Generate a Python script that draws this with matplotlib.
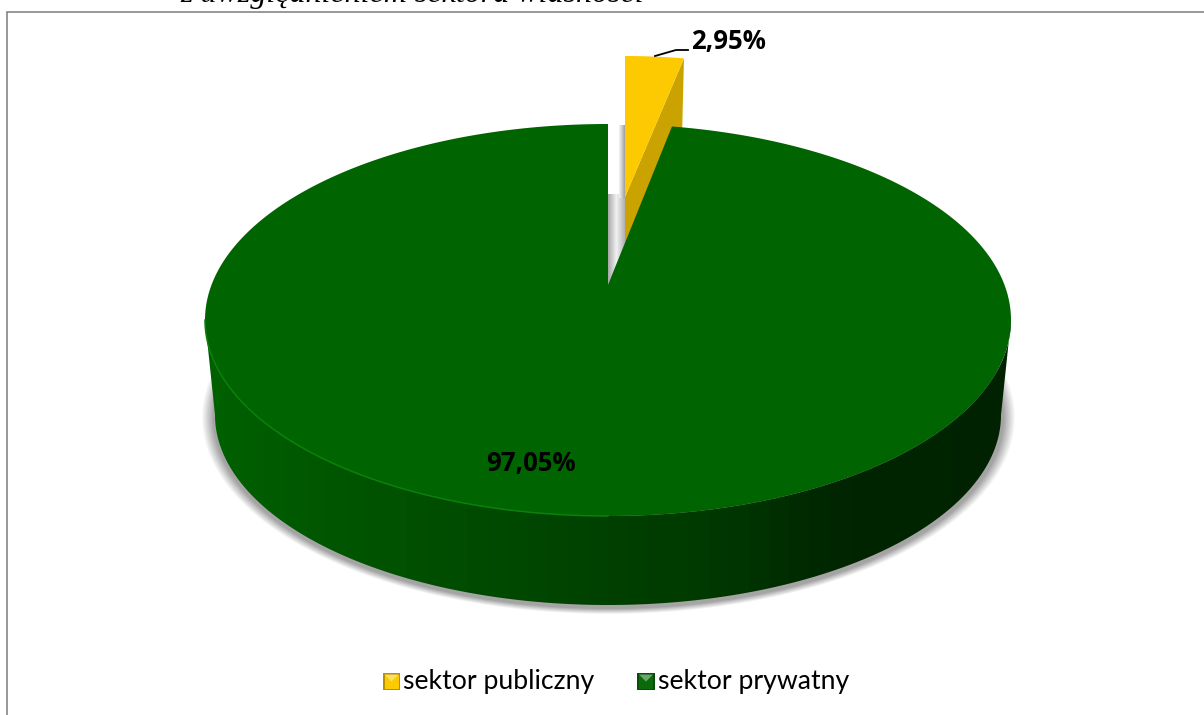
import numpy as np
import matplotlib
matplotlib.use("Agg")
import matplotlib.pyplot as plt
from matplotlib.colors import LinearSegmentedColormap
from matplotlib.legend_handler import HandlerBase
from matplotlib.patches import Patch, Polygon, Rectangle

plt.rcParams['font.family'] = ['Lato', 'DejaVu Sans']

# data
categories = ["sektor publiczny", "sektor prywatny"]
shares = [2.95, 97.05]
title_tail = "z uwzględnieniem sektora własności"

# colours
YELLOW, YELLOW_DARK = "#fdc900", "#cba300"
GREEN, GREEN_RIM = "#006400", "#0b800b"

# pie geometry in pixels (the original is a 3D pie with perspective)
CX, CY, RX, RY = 608, 320, 403, 196
BOT_CY, BOT_RX, BOT_RY = 415, 393, 190
APEX_Y = 285
PERSP = 0.86          # the near slice looks narrower on screen
Y_APEX_X, Y_APEX_Y, Y_RX, Y_H, Y_DEPTH = 625, 197, 320, 141, 46

W, H = 1204, 715


def fmt(v):
    return "{:.2f}%".format(v).replace(".", ",")


def rim(t, cx=CX, cy=CY, rx=RX, ry=RY):
    # t in radians, clockwise from 12 o'clock
    return np.column_stack([cx + rx * np.sin(t), cy - ry * np.cos(t)])


class BevelHandler(HandlerBase):
    # small bevelled square like the office legend keys
    def create_artists(self, legend, orig, x0, y0, width, height, fontsize, trans):
        s = 12.5
        x = x0 + width - s
        y = y0 + (height - s) / 2 - 1
        c = orig.get_facecolor()
        light = tuple(min(1, v * 0.6 + 0.4) for v in c[:3])
        dark = tuple(v * 0.72 for v in c[:3])
        base = Rectangle((x, y), s, s, fc=dark, ec="none", transform=trans)
        face = Rectangle((x + 1.2, y + 1.2), s - 2.4, s - 2.4, fc=c, ec="none", transform=trans)
        top = Polygon([(x + 1.2, y + s - 1.2), (x + s - 1.2, y + s - 1.2), (x + s / 2, y + s / 2)],
                      fc=light, ec="none", transform=trans)
        return [base, face, top]


fig = plt.figure(figsize=(W / 100, H / 100), dpi=100)
ax = fig.add_axes([0, 0, 1, 1])
ax.set_xlim(0, W)
ax.set_ylim(H, 0)
ax.axis("off")

# chart frame
ax.add_patch(Rectangle((7, 12), W + 20, H + 20, fc="white", ec="#868686", lw=1.2, zorder=0))
ax.text(180, 2, title_tail, family="Liberation Serif", style="italic", fontsize=23,
        ha="left", va="baseline")

# soft shadow under the pie
yy, xx = np.mgrid[0:H, 0:W]
d = np.sqrt(((xx - CX) / (BOT_RX + 2)) ** 2 + ((yy - (BOT_CY + 2)) / (BOT_RY + 1)) ** 2)
alpha = np.clip((1.03 - d) / 0.03, 0, 1) * 0.55
shadow = np.zeros((H, W, 4))
shadow[..., :3] = 0.35
shadow[..., 3] = alpha
ax.imshow(shadow, extent=(0, W, H, 0), zorder=1, aspect="auto", interpolation="bilinear")

# grey shading visible in the gap between the slices
grey = LinearSegmentedColormap.from_list("gap", ["#a8a8a8", "#f2f2f2", "#b0b0b0"])
gap = ax.imshow(np.linspace(0, 1, 64).reshape(1, -1), extent=(CX, Y_APEX_X, H, 0),
                cmap=grey, aspect="auto", zorder=2)
gap_clip = Polygon([(CX, APEX_Y), (CX, Y_APEX_Y - 3), (Y_APEX_X, Y_APEX_Y - 3), (Y_APEX_X, Y_APEX_Y + Y_DEPTH)],
                   transform=ax.transData, fc="none", ec="none")
ax.add_patch(gap_clip)
gap.set_clip_path(gap_clip)
grey2 = LinearSegmentedColormap.from_list("gap2", ["#f4f4f4", "#a0a0a0"])
gap2 = ax.imshow(np.linspace(0, 1, 16).reshape(1, -1), extent=(Y_APEX_X - 6, Y_APEX_X, H, 0),
                 cmap=grey2, aspect="auto", zorder=2)
gap2.set_clip_path(Rectangle((Y_APEX_X - 6, CY - RY + 1), 6, Y_APEX_Y - CY + RY, transform=ax.transData))

# public sector slice, pulled out from the pie
sweep = np.radians(shares[0] * 3.6)
t = np.linspace(0, sweep, 12)
y_rim = np.column_stack([Y_APEX_X + Y_RX * np.sin(t), Y_APEX_Y - Y_H * np.cos(t)])
y_apex = (Y_APEX_X, Y_APEX_Y)
side = [y_apex, tuple(y_rim[-1]), (y_rim[-1, 0] - 2, y_rim[-1, 1] + 80), (Y_APEX_X, Y_APEX_Y + Y_DEPTH)]
ax.add_patch(Polygon(side, fc=YELLOW_DARK, ec="none", zorder=3))
ax.add_patch(Polygon(np.vstack([y_apex, y_rim]), fc=YELLOW, ec="none", zorder=4))

# private sector slice: side wall with a left-to-right shading
tl = np.linspace(np.pi / 2, 3 * np.pi / 2, 300)
wall = np.vstack([rim(tl), rim(tl[::-1], CX, BOT_CY, BOT_RX, BOT_RY)])
wall_cmap = LinearSegmentedColormap.from_list(
    "wall", [(0, "#006000"), (0.25, "#005000"), (0.5, "#004000"),
             (0.62, "#003a00"), (0.8, "#002500"), (1, "#002200")])
grad = ax.imshow(np.linspace(0, 1, 40).reshape(1, -1), extent=(CX - RX, CX + RX, H, 0),
                 cmap=wall_cmap, aspect="auto", interpolation="nearest", zorder=5)
wall_patch = Polygon(wall, transform=ax.transData, fc="none", ec="none")
ax.add_patch(wall_patch)
grad.set_clip_path(wall_patch)

# private sector slice: top face
start = np.radians(shares[0] * 3.6 * PERSP)
tt = np.linspace(start, 2 * np.pi, 600)
ax.add_patch(Polygon(np.vstack([(CX, APEX_Y), rim(tt)]), fc=GREEN, ec="none", zorder=6))
# light edge only on the left half of the front rim
tf = np.linspace(np.pi, 3 * np.pi / 2, 150)
ax.plot(*rim(tf).T, color=GREEN_RIM, lw=1.1, zorder=7)

ax.set_xlim(0, W)
ax.set_ylim(H, 0)

# data labels
ax.text(728, 42, fmt(shares[0]), family="Open Sans", fontsize=18.5, fontweight="bold",
        ha="center", va="center", zorder=8)
ax.text(531, 463, fmt(shares[1]), family="Open Sans", fontsize=18.5, fontweight="bold",
        ha="center", va="center", zorder=8)
lab_x, lab_y = 688, 50
ax.plot([lab_x, lab_x - 12, lab_x - 33], [lab_y, lab_y, lab_y + 6], color="black", lw=1.3, zorder=8)

# legend
handles = [Patch(facecolor=YELLOW), Patch(facecolor="#0b6b0b")]
leg = ax.legend(handles, categories, ncol=2, frameon=False, fontsize=19.2,
                loc="center", bbox_to_anchor=(616 / W, 1 - 682 / H),
                handler_map={Patch: BevelHandler()}, handlelength=0.65,
                handletextpad=0.12, columnspacing=1.6, labelcolor="black")
leg.set_zorder(9)

fig.savefig("out.png", dpi=100)
